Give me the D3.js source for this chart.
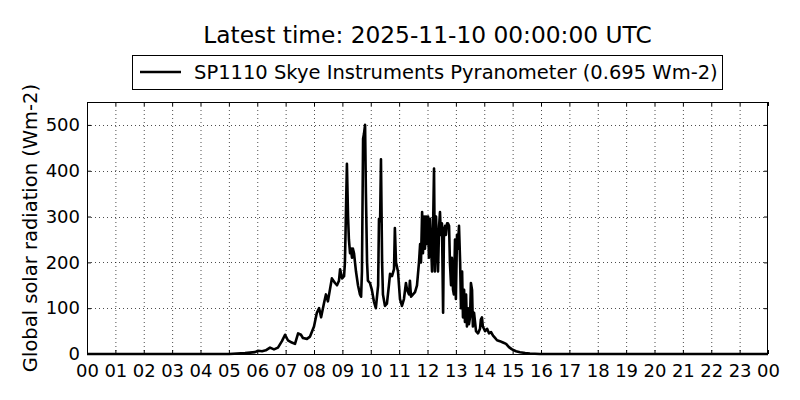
<!DOCTYPE html>
<html><head><meta charset="utf-8">
<script src="https://cdn.jsdelivr.net/npm/d3@7"></script>
<style>body{margin:0;background:#fff}svg{display:block}text{font-family:"DejaVu Sans",sans-serif;fill:#000}</style>
</head><body><svg id="c" width="800" height="400"></svg>
<script>
const titleText = "Latest time: 2025-11-10 00:00:00 UTC";
const seriesName = "SP1110 Skye Instruments Pyranometer (0.695 Wm-2)";
const yLabel = "Global solar radiation (Wm-2)";
const xTickLabels = ["00","01","02","03","04","05","06","07","08","09","10","11","12","13","14","15","16","17","18","19","20","21","22","23","00"];
const yTicks = [0,100,200,300,400,500];
const hours = [0,5.0,5.57,5.92,6.03,6.17,6.3,6.45,6.59,6.73,6.87,6.98,7.08,7.22,7.33,7.44,7.54,7.61,7.75,7.86,8.0,8.1,8.18,8.25,8.35,8.42,8.49,8.56,8.63,8.74,8.81,8.88,8.92,8.99,9.06,9.09,9.16,9.2,9.23,9.27,9.3,9.34,9.37,9.41,9.48,9.55,9.62,9.66,9.69,9.73,9.76,9.8,9.83,9.87,9.9,9.97,10.04,10.11,10.18,10.26,10.29,10.33,10.36,10.4,10.43,10.5,10.57,10.64,10.68,10.75,10.82,10.85,10.89,10.96,11.03,11.1,11.17,11.24,11.28,11.35,11.38,11.42,11.49,11.56,11.63,11.7,11.74,11.77,11.81,11.84,11.88,11.91,11.95,11.98,12.02,12.05,12.09,12.12,12.16,12.19,12.23,12.26,12.3,12.33,12.37,12.41,12.44,12.47,12.51,12.55,12.58,12.62,12.65,12.69,12.72,12.76,12.79,12.83,12.86,12.9,12.93,12.97,13.0,13.04,13.07,13.11,13.15,13.18,13.22,13.25,13.29,13.32,13.36,13.39,13.43,13.46,13.5,13.53,13.57,13.6,13.64,13.71,13.78,13.85,13.88,13.92,13.95,14.03,14.1,14.17,14.24,14.31,14.38,14.45,14.55,14.66,14.77,14.87,14.98,15.12,15.26,15.44,15.61,15.96,24];
const radiation = [0,0,2,4,7,6,8,14,10,14,28,42,30,25,22,45,42,35,33,38,60,90,100,80,110,130,115,140,165,155,150,160,185,165,170,200,415,300,250,220,230,210,230,220,180,150,130,125,180,470,480,500,350,200,160,155,140,115,100,150,295,290,425,200,130,105,110,150,175,170,185,275,200,180,120,105,120,155,140,130,160,125,130,135,150,200,240,200,310,220,300,230,300,240,300,210,295,250,180,250,405,180,300,250,180,280,310,260,285,90,270,280,260,285,285,280,200,150,210,140,130,250,120,260,230,280,200,100,180,80,140,70,130,60,100,65,80,155,140,60,90,50,45,55,75,80,60,50,55,45,48,40,35,30,28,25,22,15,10,6,4,2,1,0,0];

const data = hours.map((h,i)=>({h, v: radiation[i]}));
const svg = d3.select("#c");
const m = {l:87, r:768, t:102, b:354};
const x = d3.scaleLinear().domain([0,24]).range([m.l, m.r]);
const y = d3.scaleLinear().domain([0,550]).range([m.b, m.t]);

// grid
const g = svg.append("g");
g.selectAll("line.gx").data(d3.range(1,24)).join("line")
  .attr("x1",d=>x(d)+0.5).attr("x2",d=>x(d)+0.5).attr("y1",m.t).attr("y2",m.b)
  .attr("stroke","#000").attr("stroke-width",0.7).attr("stroke-dasharray","1,3");
g.selectAll("line.gy").data(yTicks.slice(1)).join("line")
  .attr("y1",d=>Math.round(y(d))+0.5).attr("y2",d=>Math.round(y(d))+0.5).attr("x1",m.l).attr("x2",m.r)
  .attr("stroke","#000").attr("stroke-width",0.7).attr("stroke-dasharray","1,3");

// line
svg.append("path").datum(data)
  .attr("d", d3.line().x(d=>x(d.h)).y(d=>y(d.v)))
  .attr("fill","none").attr("stroke","#000").attr("stroke-width",2.6).attr("stroke-linejoin","round");

// axes (inward ticks)
const xa = d3.axisBottom(x).tickValues(d3.range(0,25)).tickFormat((d,i)=>xTickLabels[i]).tickSizeInner(-4).tickSizeOuter(0).tickPadding(10);
svg.append("g").attr("transform",`translate(0,${m.b})`).call(xa);
const xt = d3.axisTop(x).tickValues(d3.range(0,25)).tickFormat("").tickSizeInner(-4).tickSizeOuter(0);
svg.append("g").attr("transform",`translate(0,${m.t})`).call(xt);
const ya = d3.axisLeft(y).tickValues(yTicks).tickSizeInner(-4).tickSizeOuter(0).tickPadding(7);
svg.append("g").attr("transform",`translate(${m.l},0)`).call(ya);
const yr = d3.axisRight(y).tickValues(yTicks).tickFormat("").tickSizeInner(-4).tickSizeOuter(0);
svg.append("g").attr("transform",`translate(${m.r},0)`).call(yr);
svg.selectAll(".domain").remove();
svg.selectAll(".tick text").attr("font-size",18).attr("font-family","DejaVu Sans");
svg.selectAll(".tick line").attr("stroke","#000");

// frame
svg.append("rect").attr("x",m.l+0.5).attr("y",m.t+0.5).attr("width",m.r-m.l-1).attr("height",m.b-m.t)
  .attr("fill","none").attr("stroke","#000").attr("stroke-width",1);

// title
svg.append("text").attr("x",(m.l+m.r)/2).attr("y",43).attr("text-anchor","middle").attr("font-size",23.3).text(titleText);

// legend
const lg = svg.append("g");
lg.append("rect").attr("x",132.5).attr("y",55.5).attr("width",590).attr("height",34).attr("fill","#fff").attr("stroke","#000");
lg.append("line").attr("x1",140).attr("x2",181).attr("y1",72).attr("y2",72).attr("stroke","#000").attr("stroke-width",2.6);
lg.append("text").attr("x",194).attr("y",79).attr("font-size",19.5).text(seriesName);

// y label
svg.append("text").attr("transform",`translate(37,${(m.t+m.b)/2}) rotate(-90)`).attr("text-anchor","middle").attr("font-size",19.5).text(yLabel);
</script></body></html>
